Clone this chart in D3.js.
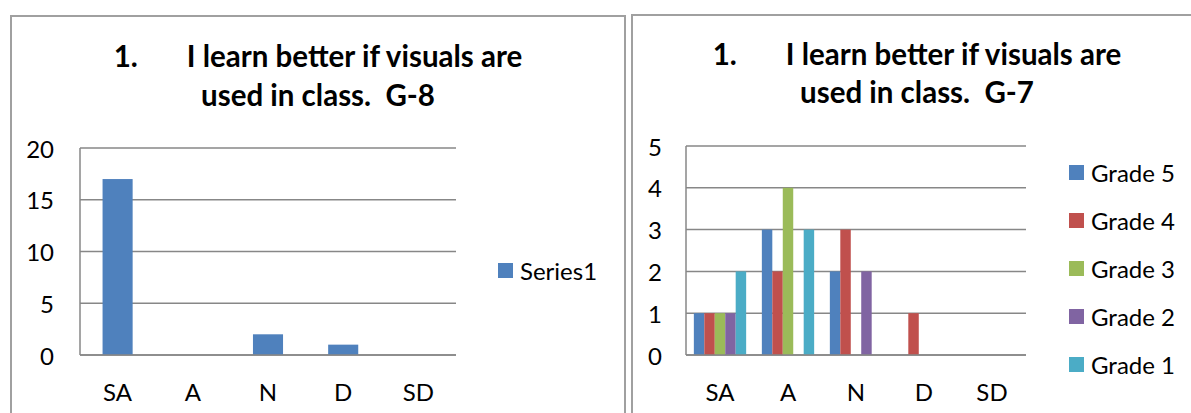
<!DOCTYPE html>
<html>
<head>
<meta charset="utf-8">
<script src="https://cdn.jsdelivr.net/npm/d3@7"></script>
<style>
  body { margin: 0; background: #fff; }
  text { font-family: Lato, "Open Sans", sans-serif; fill: #000; white-space: pre; }
  .title { font-weight: bold; font-size: 29.5px; }
  .tick-label, .cat-label, .legend-label { font-size: 24px; }
</style>
</head>
<body>
<div class="chart-container"></div>
<script>
(function() {
  ////////////////////////////////////////////////////////////
  //// Data //////////////////////////////////////////////////
  ////////////////////////////////////////////////////////////
  const categories = ["SA", "A", "N", "D", "SD"];

  // G-8 chart: single series
  const g8Series = ["Series1"];
  const g8Series1 = [17, 0, 2, 1, 0];
  const g8Ticks = [0, 5, 10, 15, 20];

  // G-7 chart: five grades
  const g7Series = ["Grade 5", "Grade 4", "Grade 3", "Grade 2", "Grade 1"];
  const g7Grade5 = [1, 3, 2, 0, 0];
  const g7Grade4 = [1, 2, 3, 1, 0];
  const g7Grade3 = [1, 4, 0, 0, 0];
  const g7Grade2 = [1, 0, 2, 0, 0];
  const g7Grade1 = [2, 3, 0, 0, 0];
  const g7Ticks = [0, 1, 2, 3, 4, 5];

  const titleLine1 = ["1.", "I learn better if visuals are"];
  const g8TitleLine2 = "used in class.  G-8";
  const g7TitleLine2 = "used in class.  G-7";

  const colors = ["#4F81BD", "#C0504D", "#9BBB59", "#8064A2", "#4BACC6"];

  ////////////////////////////////////////////////////////////
  //// Setup /////////////////////////////////////////////////
  ////////////////////////////////////////////////////////////
  const chartWidth = 1191;
  const chartHeight = 413;
  const gridColor = "#878787";
  const frameColor = "#a0a0a0";

  const svg = d3
    .select(".chart-container")
    .append("svg")
    .attr("width", chartWidth)
    .attr("height", chartHeight)
    .attr("viewBox", [0, 0, chartWidth, chartHeight]);

  function drawChart(opts) {
    const g = svg.append("g");

    // frame
    g.append("rect")
      .attr("x", opts.frame.x)
      .attr("y", opts.frame.y)
      .attr("width", opts.frame.width)
      .attr("height", opts.frame.height)
      .attr("fill", "#fff")
      .attr("stroke", frameColor)
      .attr("stroke-width", 2);

    // title
    const title = g
      .append("text")
      .attr("class", "title")
      .attr("text-anchor", "middle")
      .attr("x", opts.titleX)
      .attr("y", opts.titleY[0]);
    title.append("tspan").text(titleLine1[0]);
    title
      .append("tspan")
      .attr("dx", 49)
      .text(titleLine1[1]);
    g.append("text")
      .attr("class", "title")
      .attr("text-anchor", "middle")
      .attr("x", opts.titleX)
      .attr("y", opts.titleY[1])
      .text(opts.titleLine2);

    const x0 = d3
      .scaleBand()
      .domain(categories)
      .range([opts.plot.left, opts.plot.right])
      .paddingInner(opts.gap)
      .paddingOuter(opts.gap / 2);

    const x1 = d3
      .scaleBand()
      .domain(opts.series)
      .range([0, x0.bandwidth()]);

    const y = d3
      .scaleLinear()
      .domain(d3.extent(opts.ticks))
      .range([opts.plot.bottom, opts.plot.top]);

    // gridlines
    g.append("g")
      .selectAll("line")
      .data(opts.ticks)
      .join("line")
      .attr("x1", opts.plot.left)
      .attr("x2", opts.plot.right)
      .attr("y1", d => y(d))
      .attr("y2", d => y(d))
      .attr("stroke", gridColor)
      .attr("stroke-width", 1.5);

    // value axis line
    g.append("line")
      .attr("x1", opts.plot.left)
      .attr("x2", opts.plot.left)
      .attr("y1", y.range()[1])
      .attr("y2", y.range()[0])
      .attr("stroke", gridColor)
      .attr("stroke-width", 1.5);

    // tick labels
    g.append("g")
      .selectAll("text")
      .data(opts.ticks)
      .join("text")
      .attr("class", "tick-label")
      .attr("text-anchor", "end")
      .attr("dominant-baseline", "central")
      .attr("x", opts.plot.left - opts.tickGap)
      .attr("y", d => y(d))
      .text(d => d);

    // category labels
    g.append("g")
      .selectAll("text")
      .data(categories)
      .join("text")
      .attr("class", "cat-label")
      .attr("text-anchor", "middle")
      .attr("dominant-baseline", "central")
      .attr("x", d => x0(d) + x0.bandwidth() / 2)
      .attr("y", opts.catY)
      .text(d => d);

    // bars
    const rows = opts.series.map((name, i) => ({
      name: name,
      color: colors[i],
      values: opts.values[i]
    }));

    g.append("g")
      .selectAll("g")
      .data(rows)
      .join("g")
      .attr("fill", d => d.color)
      .selectAll("rect")
      .data(d => d.values.map((v, j) => ({ name: d.name, cat: categories[j], value: v })))
      .join("rect")
      .filter(d => d.value > 0)
      .attr("x", d => x0(d.cat) + x1(d.name))
      .attr("y", d => y(d.value))
      .attr("width", x1.bandwidth())
      .attr("height", d => y(0) - y(d.value));

    // bottom axis line drawn over bars
    g.append("line")
      .attr("x1", opts.plot.left)
      .attr("x2", opts.plot.right)
      .attr("y1", y(0))
      .attr("y2", y(0))
      .attr("stroke", gridColor)
      .attr("stroke-width", 1.5);

    // legend
    const legend = g
      .append("g")
      .selectAll("g")
      .data(rows)
      .join("g")
      .attr("transform", (d, i) => `translate(${opts.legend.x},${opts.legend.y + i * opts.legend.step})`);
    legend
      .append("rect")
      .attr("x", 0)
      .attr("y", -7.5)
      .attr("width", 15)
      .attr("height", 15)
      .attr("fill", d => d.color);
    legend
      .append("text")
      .attr("class", "legend-label")
      .attr("x", 22)
      .attr("dominant-baseline", "central")
      .text(d => d.name);
  }

  ////////////////////////////////////////////////////////////
  //// Charts ////////////////////////////////////////////////
  ////////////////////////////////////////////////////////////
  drawChart({
    frame: { x: 11, y: 16, width: 614, height: 420 },
    titleX: 318,
    titleY: [67, 106],
    titleLine2: g8TitleLine2,
    plot: { left: 80, right: 456, top: 148, bottom: 355 },
    gap: 0.6,
    tickGap: 26,
    catY: 391,
    series: g8Series,
    values: [g8Series1],
    ticks: g8Ticks,
    legend: { x: 498, y: 270.5, step: 0 }
  });

  drawChart({
    frame: { x: 632, y: 15, width: 600, height: 420 },
    titleX: 917,
    titleY: [65, 103],
    titleLine2: g7TitleLine2,
    plot: { left: 686, right: 1026, top: 146, bottom: 355 },
    gap: 1.5 / 6.5,
    tickGap: 24,
    catY: 391,
    series: g7Series,
    values: [g7Grade5, g7Grade4, g7Grade3, g7Grade2, g7Grade1],
    ticks: g7Ticks,
    legend: { x: 1069, y: 172.5, step: 48 }
  });
})();
</script>
</body>
</html>
